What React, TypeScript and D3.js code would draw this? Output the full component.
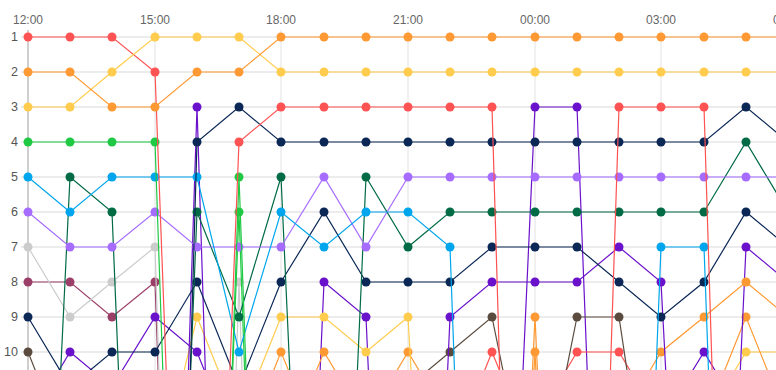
import React from "react";
import * as d3 from "d3";

const hours = ["12:00","13:00","14:00","15:00","16:00","17:00","18:00","19:00","20:00","21:00","22:00","23:00","00:00","01:00","02:00","03:00","04:00","05:00","06:00"];
const tickEvery = 3;
const ranks = [1,2,3,4,5,6,7,8,9,10];

const N = null;
const orangeA = [2,2,3,3,2,2,1,1,1,1,1,1,1,1,1,1,1,1,1];
const yellowA = [3,3,2,1,1,1,2,2,2,2,2,2,2,2,2,2,2,2,2];
const redA = [1,1,1,2,34,4,3,3,3,3,3,3,45,40,3,3,3,42,N];
const greenA = [4,4,4,4,39,5,38,N,N,N,N,N,N,N,N,N,N,N,N];
const cyanA = [5,6,5,5,5,10,6,7,6,6,7,40,N,N,37,7,7,40,N];
const purpleA = [6,7,7,6,7,7,7,5,7,5,5,5,5,5,5,5,5,5,5];
const greyA = [7,9,8,7,45,8,44,N,N,N,N,N,N,N,N,N,N,N,N];
const maroonA = [8,8,9,8,42,N,N,N,N,N,N,N,N,N,N,N,N,N,N];
const navyA = [9,11,10,10,8,11,8,6,8,8,8,7,7,7,8,9,8,6,7];
const brownA = [10,13,N,N,N,N,N,N,N,N,N,N,N,N,N,N,N,N,N];
const dkGreenA = [30,5,6,36,6,9,5,32,5,7,6,6,6,6,6,6,6,4,6];
const dkPurpleA = [12,10,11,9,10,13,N,N,N,N,N,N,N,N,N,N,N,N,N];
const navyB = [N,N,N,45,4,3,4,4,4,4,4,4,4,4,4,4,4,3,4];
const dkPurpleB = [N,N,N,40,3,41,N,N,N,N,N,N,N,N,N,N,N,N,N];
const greenB = [N,N,N,N,36,6,40,N,N,N,N,N,N,N,N,N,N,N,N];
const yellowB = [N,N,N,14,9,12,N,N,N,N,N,N,N,N,N,N,N,N,N];
const yellowC = [N,N,N,N,N,12,9,9,10,9,30,N,N,N,N,N,N,N,N];
const orangeB = [N,N,N,N,N,13,10,13,N,N,N,N,N,N,N,N,N,N,N];
const orangeC = [N,N,N,N,N,N,13,10,12,N,N,N,N,N,N,N,N,N,N];
const orangeD = [N,N,N,N,N,N,N,N,12,10,12,N,N,N,N,N,N,N,N];
const dkPurpleC = [N,N,N,N,N,N,36,8,9,36,9,8,8,8,7,8,31,N,N];
const brownB = [N,N,N,N,N,N,N,N,N,11,10,9,15,9,9,17,N,N,N];
const redB = [N,N,N,N,N,N,N,N,N,N,13,10,13,N,N,N,N,N,N];
const redC = [N,N,N,N,N,N,N,N,N,N,N,N,12,10,10,12,N,N,N];
const orangeE = [N,N,N,N,N,N,N,N,N,N,N,35,9,35,N,N,N,N,N];
const orangeF = [N,N,N,N,N,N,N,N,N,N,N,33,10,34,N,N,N,N,N];
const dkPurpleD = [N,N,N,N,N,N,N,N,N,N,N,30,3,3,34,N,N,N,N];
const orangeG = [N,N,N,N,N,N,N,N,N,N,N,N,N,N,12,10,9,8,9];
const dkPurpleE = [N,N,N,N,N,N,N,N,N,N,N,N,N,N,N,12,10,12,N];
const dkPurpleF = [N,N,N,N,N,N,N,N,N,N,N,N,N,N,N,N,33,7,8];
const orangeH = [N,N,N,N,N,N,N,N,N,N,N,N,N,N,N,N,12,9,12];
const yellowD = [N,N,N,N,N,N,N,N,N,N,N,N,N,N,N,N,12,10,10];

const RED = "#ff5252", ORANGE = "#ff9933", YELLOW = "#ffcc4d", GREEN = "#1fc944",
  CYAN = "#00a6ed", PURPLE = "#a66cff", GREY = "#cccccc", MAROON = "#9c3f68",
  NAVY = "#0a2756", BROWN = "#5b4b3e", DKGREEN = "#006b45", DKPURPLE = "#6a11cb";

const series: { data: (number | null)[]; color: string }[] = [
  { data: brownA, color: BROWN },
  { data: maroonA, color: MAROON },
  { data: greyA, color: GREY },
  { data: yellowD, color: YELLOW },
  { data: orangeH, color: ORANGE },
  { data: dkPurpleF, color: DKPURPLE },
  { data: dkPurpleE, color: DKPURPLE },
  { data: orangeG, color: ORANGE },
  { data: dkPurpleD, color: DKPURPLE },
  { data: orangeF, color: ORANGE },
  { data: orangeE, color: ORANGE },
  { data: redC, color: RED },
  { data: redB, color: RED },
  { data: brownB, color: BROWN },
  { data: dkPurpleC, color: DKPURPLE },
  { data: orangeD, color: ORANGE },
  { data: orangeC, color: ORANGE },
  { data: orangeB, color: ORANGE },
  { data: yellowC, color: YELLOW },
  { data: yellowB, color: YELLOW },
  { data: greenB, color: GREEN },
  { data: dkPurpleB, color: DKPURPLE },
  { data: dkPurpleA, color: DKPURPLE },
  { data: navyA, color: NAVY },
  { data: dkGreenA, color: DKGREEN },
  { data: purpleA, color: PURPLE },
  { data: cyanA, color: CYAN },
  { data: greenA, color: GREEN },
  { data: navyB, color: NAVY },
  { data: redA, color: RED },
  { data: yellowA, color: YELLOW },
  { data: orangeA, color: ORANGE },
];

const W = 776, H = 370;
const FONT = "'Liberation Sans', Arial, sans-serif";

export default function App() {
  const x = d3.scaleLinear().domain([0, hours.length - 1]).range([28, 788]);
  const y = d3.scaleLinear().domain([1, 10]).range([37, 352]);
  const px = (i: number) => Math.round(x(i));
  const py = (r: number) => Math.round(y(r));
  const line = d3
    .line<number | null>()
    .defined((d) => d != null)
    .x((_d, i) => px(i))
    .y((d) => py(d as number));

  return (
    <svg
      width={W}
      height={H}
      style={{ position: "absolute", left: 0, top: 0, background: "#fff" }}
      fontFamily={FONT}
    >
      {ranks.map((r) => (
        <line key={"h" + r} x1={21} x2={W} y1={py(r)} y2={py(r)} stroke="#d9d9d9" strokeWidth={1} />
      ))}
      {hours.map((h, i) =>
        i % tickEvery === 0 ? (
          <g key={"v" + i}>
            <line
              x1={px(i)}
              x2={px(i)}
              y1={30}
              y2={H}
              stroke={i === 0 ? "#b5b5b5" : "#e2e2e2"}
              strokeWidth={i === 0 ? 1.3 : 1}
            />
            <text x={px(i)} y={24} textAnchor="middle" fontSize={12} fill="#666">
              {h}
            </text>
          </g>
        ) : null
      )}
      {ranks.map((r) => (
        <text key={"r" + r} x={18} y={py(r)} dy="0.35em" textAnchor="end" fontSize={12.5} fill="#555">
          {r}
        </text>
      ))}
      {series.map((s, k) => (
        <g key={"s" + k}>
          <path d={line(s.data) || ""} fill="none" stroke={s.color} strokeWidth={1.2} />
          {s.data.map((d, i) =>
            d == null ? null : <circle key={i} cx={px(i)} cy={py(d)} r={4.5} fill={s.color} />
          )}
        </g>
      ))}
    </svg>
  );
}
